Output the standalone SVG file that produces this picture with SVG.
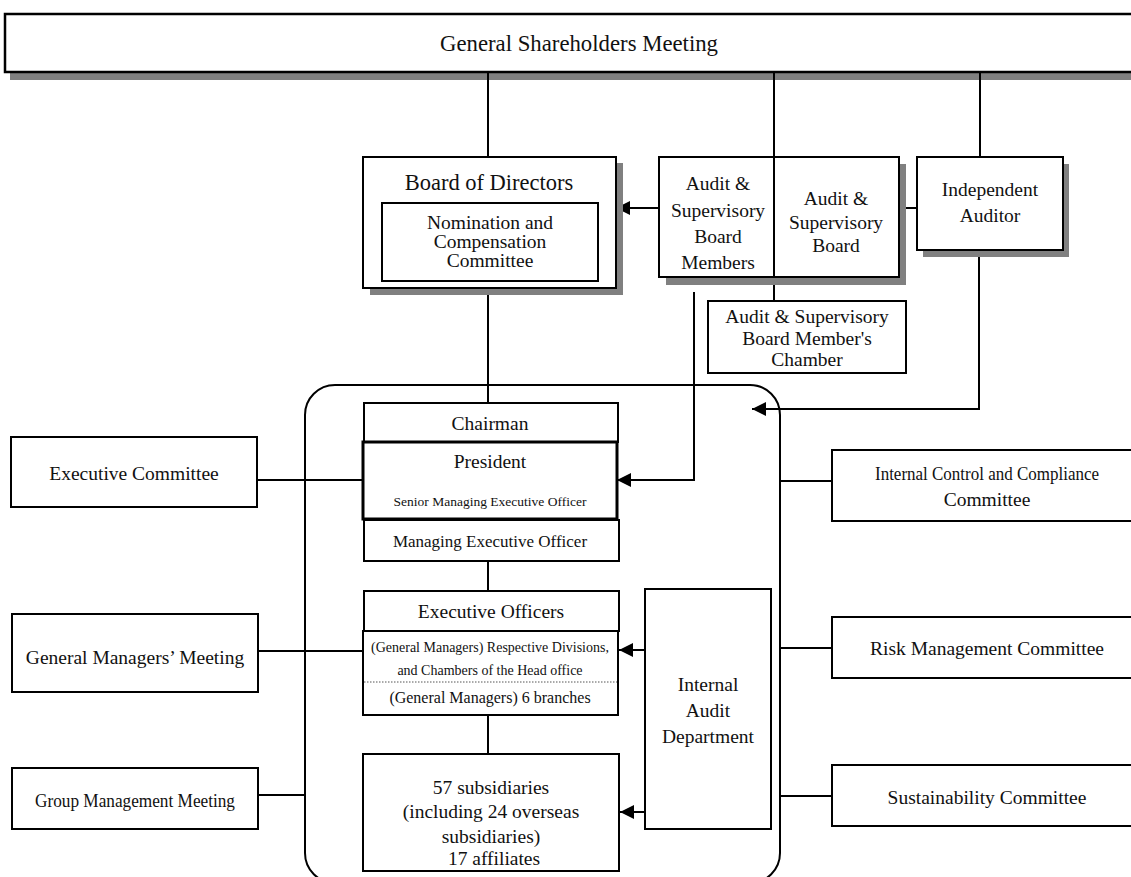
<svg xmlns="http://www.w3.org/2000/svg" width="1131" height="877" viewBox="0 0 1131 877">
<defs>
<style>
.box{fill:#fff;stroke:#000;stroke-width:2}
.shadow{fill:#808080;stroke:none}
.ln{fill:none;stroke:#000;stroke-width:2}
text{font-family:"Liberation Serif","Times New Roman",serif;fill:#111;text-anchor:middle;dominant-baseline:central}
.t19{font-size:19.5px}
.t22{font-size:22.5px}
</style>
<marker id="arr" markerUnits="userSpaceOnUse" markerWidth="14" markerHeight="14" viewBox="0 0 12 12" refX="12" refY="6" orient="auto">
<path d="M0,0 L12,6 L0,12 Z" fill="#000"/>
</marker>
</defs>
<rect width="1131" height="877" fill="#fff"/>

<g id="shareholders">
<rect class="shadow" x="10" y="21" width="1140" height="59"/>
<rect class="box" x="5" y="14" width="1140" height="58" style="stroke-width:2.5"/>
<text class="t22" x="579" y="43" textLength="278" lengthAdjust="spacingAndGlyphs">General Shareholders Meeting</text>
</g>

<g id="execution-frame">
<rect class="ln" x="305" y="385" width="475" height="498" rx="30" ry="30"/>
</g>

<g id="connectors">
<path class="ln" d="M488,72 V157"/>
<path class="ln" d="M774,72 V301"/>
<path class="ln" d="M980,72 V157"/>
<path class="ln" d="M488,295 V403"/>
<path class="ln" d="M659,208 H616" marker-end="url(#arr)"/>
<path class="ln" d="M899,208 H917"/>
<path class="ln" d="M979,257 V409 H752" marker-end="url(#arr)"/>
<path class="ln" d="M694,292 V480 H617" marker-end="url(#arr)"/>
<path class="ln" d="M257,480 H617"/>
<path class="ln" d="M488,561 V591"/>
<path class="ln" d="M258,651 H363"/>
<path class="ln" d="M645,650 H619" marker-end="url(#arr)"/>
<path class="ln" d="M488,715 V754"/>
<path class="ln" d="M645,812 H620" marker-end="url(#arr)"/>
<path class="ln" d="M258,795 H305"/>
<path class="ln" d="M780,481 H832"/>
<path class="ln" d="M780,648 H832"/>
<path class="ln" d="M780,796 H832"/>
</g>

<g id="board">
<rect class="shadow" x="370" y="163" width="253" height="132"/>
<rect class="box" x="363" y="157" width="253" height="131"/>
<text class="t22" x="489" y="182">Board of Directors</text>
</g>

<g id="nomination">
<rect class="box" x="382" y="203" width="216" height="78"/>
<text class="t19" x="490" y="222">Nomination and</text>
<text class="t19" x="490" y="241">Compensation</text>
<text class="t19" x="490" y="260">Committee</text>
</g>

<g id="audit-board">
<rect class="shadow" x="666" y="164" width="240" height="121"/>
<rect class="box" x="659" y="157" width="240" height="120"/>
<path class="ln" d="M774,157 V277"/>
<text class="t19" x="718" y="183">Audit &amp;</text>
<text class="t19" x="718" y="210">Supervisory</text>
<text class="t19" x="718" y="236">Board</text>
<text class="t19" x="718" y="262">Members</text>
<text class="t19" x="836" y="198">Audit &amp;</text>
<text class="t19" x="836" y="222">Supervisory</text>
<text class="t19" x="836" y="245">Board</text>
</g>

<g id="independent-auditor">
<rect class="shadow" x="923" y="164" width="146" height="93"/>
<rect class="box" x="917" y="157" width="146" height="93"/>
<text class="t19" x="990" y="189">Independent</text>
<text class="t19" x="990" y="215">Auditor</text>
</g>

<g id="chamber">
<rect class="box" x="708" y="301" width="198" height="72"/>
<text class="t19" x="807" y="316">Audit &amp; Supervisory</text>
<text class="t19" x="807" y="338">Board Member's</text>
<text class="t19" x="807" y="359">Chamber</text>
</g>

<g id="chairman">
<rect class="box" x="364" y="403" width="254" height="39"/>
<text class="t19" x="490" y="423">Chairman</text>
</g>

<g id="president">
<rect class="box" x="363" y="442" width="254" height="77" style="stroke-width:3"/>
<text class="t19" x="490" y="461">President</text>
<text x="490" y="501" style="font-size:13.5px">Senior Managing Executive Officer</text>
</g>

<g id="managing">
<rect class="box" x="364" y="520" width="255" height="41"/>
<text x="490" y="541" style="font-size:17px">Managing Executive Officer</text>
</g>

<g id="executive-committee">
<rect class="box" x="11" y="437" width="246" height="70"/>
<text class="t19" x="134" y="473">Executive Committee</text>
</g>

<g id="executive-officers">
<rect class="box" x="364" y="591" width="255" height="40"/>
<text class="t19" x="491" y="611">Executive Officers</text>
</g>

<g id="general-managers">
<rect class="box" x="363" y="631" width="255" height="84"/>
<text x="490" y="647" style="font-size:14px">(General Managers) Respective Divisions,</text>
<text x="490" y="670" style="font-size:14px">and Chambers of the Head office</text>
<path d="M364,682 H617" stroke="#555" stroke-width="1" stroke-dasharray="1.5,1.5"/>
<text x="490" y="697" style="font-size:16px">(General Managers) 6 branches</text>
</g>

<g id="subsidiaries">
<rect class="box" x="363" y="754" width="256" height="117"/>
<text class="t19" x="491" y="787">57 subsidiaries</text>
<text class="t19" x="491" y="811">(including 24 overseas</text>
<text class="t19" x="491" y="836">subsidiaries)</text>
<text class="t19" x="494" y="858">17 affiliates</text>
</g>

<g id="internal-audit">
<rect class="box" x="645" y="589" width="126" height="240"/>
<text class="t19" x="708" y="684">Internal</text>
<text class="t19" x="708" y="710">Audit</text>
<text class="t19" x="708" y="736">Department</text>
</g>

<g id="gm-meeting">
<rect class="box" x="12" y="614" width="246" height="78"/>
<text class="t19" x="135" y="657">General Managers’ Meeting</text>
</g>

<g id="group-meeting">
<rect class="box" x="12" y="768" width="246" height="61"/>
<text x="135" y="800" style="font-size:19px" textLength="200" lengthAdjust="spacingAndGlyphs">Group Management Meeting</text>
</g>

<g id="internal-control">
<rect class="box" x="832" y="450" width="310" height="71"/>
<text x="987" y="473" style="font-size:19px" textLength="224" lengthAdjust="spacingAndGlyphs">Internal Control and Compliance</text>
<text class="t19" x="987" y="499">Committee</text>
</g>

<g id="risk">
<rect class="box" x="832" y="617" width="310" height="61"/>
<text class="t19" x="987" y="648">Risk Management Committee</text>
</g>

<g id="sustainability">
<rect class="box" x="832" y="765" width="310" height="61"/>
<text class="t19" x="987" y="797">Sustainability Committee</text>
</g>
</svg>
